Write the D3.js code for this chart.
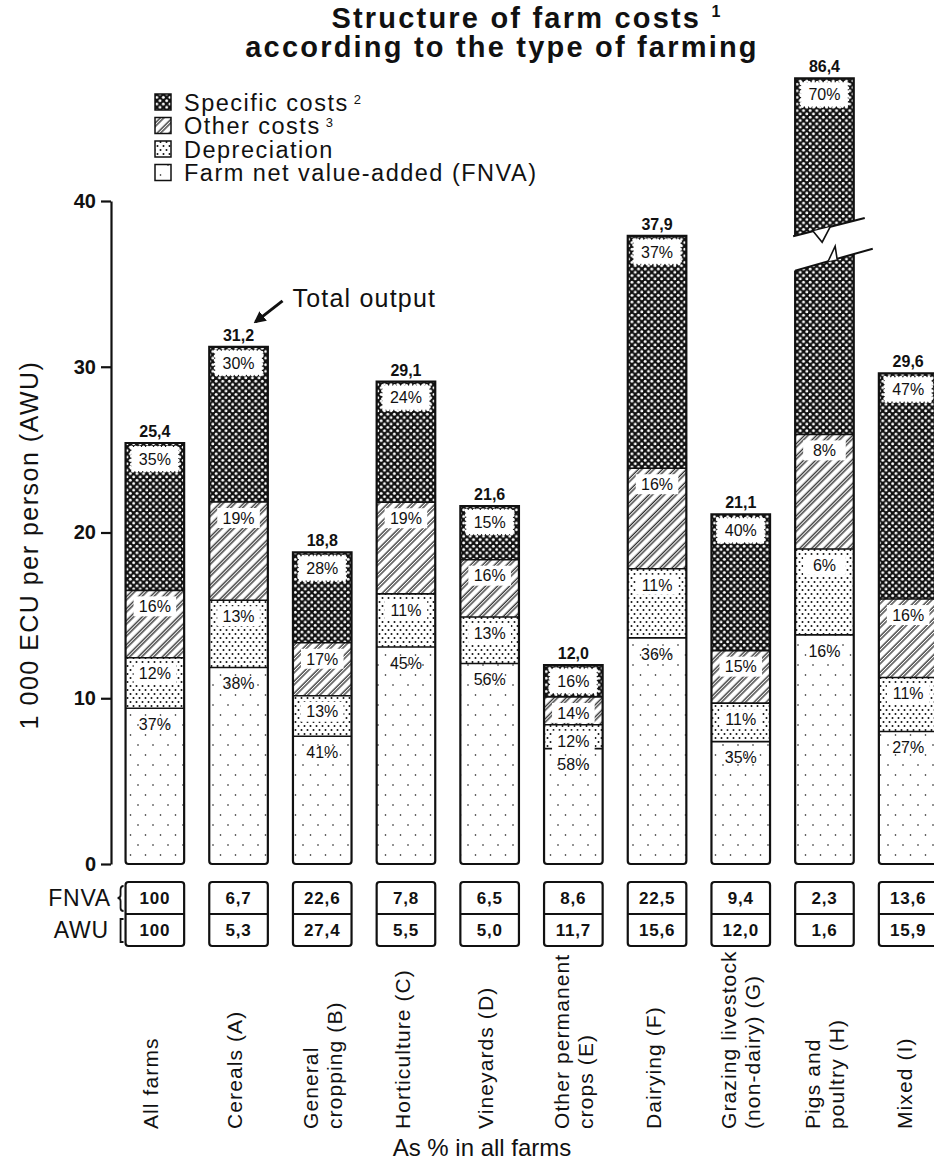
<!DOCTYPE html>
<html>
<head>
<meta charset="utf-8">
<script src="https://cdn.jsdelivr.net/npm/d3@7"></script>
<style>
  body { margin: 0; background: #fff; }
  svg { display: block; }
  text { font-family: "Liberation Sans", Arial, Helvetica, sans-serif; fill: #111; }
</style>
</head>
<body>
<svg id="chart" width="934" height="1167"></svg>
<script>
// ---- data -------------------------------------------------------------
const categories = ["All farms", "Cereals (A)", "General cropping (B)", "Horticulture (C)",
  "Vineyards (D)", "Other permanent crops (E)", "Dairying (F)",
  "Grazing livestock (non-dairy) (G)", "Pigs and poultry (H)", "Mixed (I)"];
const categoryLines = [["All farms"], ["Cereals (A)"], ["General", "cropping (B)"],
  ["Horticulture (C)"], ["Vineyards (D)"], ["Other permanent", "crops (E)"],
  ["Dairying (F)"], ["Grazing livestock", "(non-dairy) (G)"], ["Pigs and", "poultry (H)"],
  ["Mixed (I)"]];
// total output, 1 000 ECU per AWU
const totalOutput = [25.4, 31.2, 18.8, 29.1, 21.6, 12.0, 37.9, 21.1, 86.4, 29.6];
// shares of total output, %
const pctFNVA = [37, 38, 41, 45, 56, 58, 36, 35, 16, 27];
const pctDepreciation = [12, 13, 13, 11, 13, 12, 11, 11, 6, 11];
const pctOther = [16, 19, 17, 19, 16, 14, 16, 15, 8, 16];
const pctSpecific = [35, 30, 28, 24, 15, 16, 37, 40, 70, 47];
// as % in all farms
const fnvaShare = ["100", "6,7", "22,6", "7,8", "6,5", "8,6", "22,5", "9,4", "2,3", "13,6"];
const awuShare = ["100", "5,3", "27,4", "5,5", "5,0", "11,7", "15,6", "12,0", "1,6", "15,9"];
const yTicks = [0, 10, 20, 30, 40];
const seriesKeys = ["specific", "other", "dep", "fnva"];
const seriesNames = ["Specific costs", "Other costs", "Depreciation", "Farm net value-added (FNVA)"];
const seriesNotes = ["2", "3", "", ""];

// ---- layout -----------------------------------------------------------
const INK = "#111";
const svg = d3.select("#chart");
const x = d3.scaleBand().domain(categories).range([113, 950]).paddingInner(0.3).paddingOuter(0.15);
const bw = x.bandwidth();
const yMax = 40;
const y = d3.scaleLinear().domain([0, yMax]).range([864, 201]);
// a bar taller than the axis is cut: its top is drawn shifted down by breakShift
const breakShift = 39.0;
const yUp = v => y(v - breakShift);
const breakLower = [35.8, 36.8];   // cut edge of the lower piece (left, right)
const breakUpper = [76.9, 77.8];   // cut edge of the upper piece (left, right)

// ---- fill patterns ----------------------------------------------------
const defs = svg.append("defs");
function pattern(id, w, h, draw, transform) {
  const p = defs.append("pattern").attr("id", id)
    .attr("patternUnits", "userSpaceOnUse").attr("width", w).attr("height", h);
  if (transform) p.attr("patternTransform", transform);
  draw(p, w, h);
}
pattern("p-specific", 6.6, 6.6, (p, w, h) => {
  p.append("rect").attr("width", w).attr("height", h).attr("fill", INK);
  [[1.65, 1.65], [4.95, 4.95]].forEach(([cx, cy]) =>
    p.append("circle").attr("cx", cx).attr("cy", cy).attr("r", 1.45).attr("fill", "#fff"));
});
pattern("p-other", 8.5, 8.5, (p, w, h) => {
  p.append("rect").attr("width", w).attr("height", h).attr("fill", "#fff");
  [1.2, 3.7].forEach(lx => p.append("line").attr("x1", lx).attr("x2", lx)
    .attr("y1", 0).attr("y2", h).attr("stroke", INK).attr("stroke-width", 1.15));
}, "rotate(45)");
pattern("p-dep", 6, 8, (p, w, h) => {
  p.append("rect").attr("width", w).attr("height", h).attr("fill", "#fff");
  [[1.5, 2], [4.5, 6]].forEach(([cx, cy]) =>
    p.append("circle").attr("cx", cx).attr("cy", cy).attr("r", 1.0).attr("fill", INK));
});
pattern("p-fnva", 15, 20, (p, w, h) => {
  p.append("rect").attr("width", w).attr("height", h).attr("fill", "#fff");
  [[3, 5], [10.5, 15]].forEach(([cx, cy]) =>
    p.append("circle").attr("cx", cx).attr("cy", cy).attr("r", 0.8).attr("fill", INK));
});

// ---- stacked values ---------------------------------------------------
const table = categories.map((c, i) => {
  const t = totalOutput[i];
  const fnva = t * pctFNVA[i] / 100;
  const dep = t * pctDepreciation[i] / 100;
  const other = t * pctOther[i] / 100;
  return { cat: c, total: t, fnva, dep, other, specific: t - fnva - dep - other,
    pct: { fnva: pctFNVA[i], dep: pctDepreciation[i], other: pctOther[i], specific: pctSpecific[i] } };
});
const stackOrder = ["fnva", "dep", "other", "specific"];
const stacked = d3.stack().keys(stackOrder)(table);

// ---- title ------------------------------------------------------------
const title = svg.append("g").attr("font-weight", "bold").attr("font-size", 29)
  .attr("letter-spacing", 2.2).attr("text-anchor", "middle");
const t1 = title.append("text").attr("x", 527).attr("y", 28);
t1.append("tspan").text("Structure of farm costs ");
t1.append("tspan").attr("font-size", 16).attr("dy", -11).text("1");
title.append("text").attr("x", 502).attr("y", 57).text("according to the type of farming");

// ---- legend -----------------------------------------------------------
const legend = svg.append("g");
seriesKeys.forEach((k, i) => {
  const cy = 102 + i * 23.5;
  legend.append("rect").attr("x", 155).attr("y", cy - 8).attr("width", 16).attr("height", 16)
    .attr("fill", `url(#p-${k})`).attr("stroke", INK).attr("stroke-width", 1.5);
  const t = legend.append("text").attr("x", 184).attr("y", cy + 8.5)
    .attr("font-size", 23.5).attr("letter-spacing", 1.5);
  t.append("tspan").text(seriesNames[i]);
  if (seriesNotes[i]) t.append("tspan").attr("font-size", 13).attr("dx", 5).attr("dy", -7).text(seriesNotes[i]);
});

// ---- y axis -----------------------------------------------------------
const yAxis = svg.append("g").attr("transform", "translate(111,0)")
  .call(d3.axisLeft(y).tickValues(yTicks).tickSize(10).tickSizeOuter(0).tickPadding(5));
yAxis.select(".domain").attr("stroke", INK).attr("stroke-width", 2.2);
yAxis.selectAll(".tick line").attr("stroke", INK).attr("stroke-width", 2.2);
yAxis.selectAll(".tick text").attr("font-size", 20).attr("font-weight", "bold")
  .attr("font-family", "Liberation Sans, Arial, sans-serif").attr("fill", INK);

svg.append("text").attr("transform", "translate(38,545) rotate(-90)")
  .attr("text-anchor", "middle").attr("font-size", 25).attr("letter-spacing", 1.5)
  .text("1 000 ECU per person (AWU)");

// ---- bars -------------------------------------------------------------
const bars = svg.append("g");
const outlinePath = (x0, x1, top, bot, r) =>
  `M${x0},${top}L${x1},${top}L${x1},${bot - r}Q${x1},${bot} ${x1 - r},${bot}` +
  `L${x0 + r},${bot}Q${x0},${bot} ${x0},${bot - r}Z`;
const fmtTotal = v => d3.format(".1f")(v).replace(".", ",");

function labelBox(g, key, cx, cy) {
  if (key === "fnva") return;
  const w = key === "specific" ? bw - 12 : bw - 16, h = key === "specific" ? 24 : 20;
  const r = g.append("rect").attr("x", cx - w / 2).attr("y", cy - h / 2)
    .attr("width", w).attr("height", h).attr("fill", "#fff");
  if (key === "specific") {
    // scalloped rim where the white box meets the dotted dark fill
    r.attr("stroke", "#fff").attr("stroke-width", 3.2)
      .attr("stroke-dasharray", "0 4").attr("stroke-linecap", "round");
  }
}
function pctLabel(g, key, pct, cx, cy) {
  labelBox(g, key, cx, cy);
  g.append("text").attr("x", cx).attr("y", cy).attr("dy", "0.36em").attr("text-anchor", "middle")
    .attr("font-size", 16).text(pct + "%");
}

table.forEach((row, i) => {
  const x0 = x(row.cat), x1 = x0 + bw, cx = x0 + bw / 2;
  const g = bars.append("g");
  const bottom = y(0);
  const broken = row.total > yMax;
  const segs = stacked.map(s => ({ key: s.key, v0: s[i][0], v1: s[i][1] }));

  if (!broken) {
    segs.forEach(s => {
      g.append("rect").attr("x", x0).attr("y", y(s.v1)).attr("width", bw)
        .attr("height", y(s.v0) - y(s.v1)).attr("fill", `url(#p-${s.key})`);
    });
    segs.slice(0, -1).forEach(s => {
      g.append("line").attr("x1", x0).attr("x2", x1).attr("y1", y(s.v1)).attr("y2", y(s.v1))
        .attr("stroke", INK).attr("stroke-width", 1.6);
    });
    segs.forEach(s => pctLabel(g, s.key, row.pct[s.key], cx, y(s.v1) + 16));
    g.append("path").attr("d", outlinePath(x0, x1, y(row.total), bottom, 3))
      .attr("fill", "none").attr("stroke", INK).attr("stroke-width", 2.2);
    g.append("text").attr("x", cx).attr("y", y(row.total) - 6).attr("text-anchor", "middle")
      .attr("font-size", 16).attr("font-weight", "bold").text(fmtTotal(row.total));
  } else {
    // lower piece, cut along a slanted edge
    const yl0 = y(breakLower[0]), yl1 = y(breakLower[1]);
    const slopeL = (yl1 - yl0) / bw;
    const clipL = defs.append("clipPath").attr("id", `cut-low-${i}`);
    clipL.append("polygon").attr("points", [[x0, yl0], [x1, yl1], [x1, bottom + 4], [x0, bottom + 4]].join(" "));
    const low = g.append("g").attr("clip-path", `url(#cut-low-${i})`);
    segs.forEach(s => {
      const top = Math.min(s.v1, yMax + 2);
      low.append("rect").attr("x", x0).attr("y", y(top)).attr("width", bw)
        .attr("height", y(s.v0) - y(top)).attr("fill", `url(#p-${s.key})`);
    });
    segs.slice(0, -1).forEach(s => {
      low.append("line").attr("x1", x0).attr("x2", x1).attr("y1", y(s.v1)).attr("y2", y(s.v1))
        .attr("stroke", INK).attr("stroke-width", 1.6);
    });
    segs.slice(0, -1).forEach(s => pctLabel(g, s.key, row.pct[s.key], cx, y(s.v1) + 16));
    g.append("path").attr("d",
      `M${x0},${yl0}L${x0},${bottom - 3}Q${x0},${bottom} ${x0 + 3},${bottom}L${x1 - 3},${bottom}` +
      `Q${x1},${bottom} ${x1},${bottom - 3}L${x1},${yl1}`)
      .attr("fill", "none").attr("stroke", INK).attr("stroke-width", 2.2);
    const extL = 19;
    g.append("line").attr("x1", x0).attr("y1", yl0).attr("x2", x1 + extL).attr("y2", yl1 + slopeL * extL)
      .attr("stroke", INK).attr("stroke-width", 2);
    const sx = x0 + 33;
    const syl = yl0 + slopeL * 33;
    g.append("path").attr("d", `M${sx},${syl}L${sx + 7},${syl - 15}L${sx + 9},${syl - 2}`)
      .attr("fill", "#fff").attr("stroke", INK).attr("stroke-width", 1.6);

    // upper piece, holding the top of the specific costs
    const yu0 = yUp(breakUpper[0]), yu1 = yUp(breakUpper[1]);
    const slopeU = (yu1 - yu0) / bw;
    const topY = yUp(row.total);
    const clipU = defs.append("clipPath").attr("id", `cut-up-${i}`);
    clipU.append("polygon").attr("points", [[x0, topY - 2], [x1, topY - 2], [x1, yu1], [x0, yu0]].join(" "));
    const up = g.append("g").attr("clip-path", `url(#cut-up-${i})`);
    const spec = segs[segs.length - 1];
    up.append("rect").attr("x", x0).attr("y", topY).attr("width", bw)
      .attr("height", yu0 - topY + 4).attr("fill", `url(#p-${spec.key})`);
    pctLabel(g, spec.key, row.pct[spec.key], cx, topY + 16);
    g.append("path").attr("d", `M${x0},${yu0}L${x0},${topY}L${x1},${topY}L${x1},${yu1}`)
      .attr("fill", "none").attr("stroke", INK).attr("stroke-width", 2.2);
    const extU = 11;
    g.append("line").attr("x1", x0 - 2).attr("y1", yu0 - slopeU * 2).attr("x2", x1 + extU).attr("y2", yu1 + slopeU * extU)
      .attr("stroke", INK).attr("stroke-width", 2);
    const vx = x0 + 18;
    const syu = yu0 + slopeU * 18;
    g.append("path").attr("d", `M${vx},${syu}L${vx + 9},${syu + 11}L${vx + 17},${syu + slopeU * 17}`)
      .attr("fill", "#fff").attr("stroke", INK).attr("stroke-width", 1.6);
    g.append("text").attr("x", cx).attr("y", topY - 6).attr("text-anchor", "middle")
      .attr("font-size", 16).attr("font-weight", "bold").text(fmtTotal(row.total));
  }
});

// ---- "Total output" pointer -------------------------------------------
const cer = categories[1];
const cerX = x(cer) + bw / 2, cerY = y(totalOutput[1]);
defs.append("marker").attr("id", "arrow").attr("viewBox", "0 0 10 10").attr("refX", 8).attr("refY", 5)
  .attr("markerWidth", 4).attr("markerHeight", 4).attr("orient", "auto")
  .append("path").attr("d", "M0,0L10,5L0,10Z").attr("fill", INK);
svg.append("line").attr("x1", cerX + 44).attr("y1", cerY - 46).attr("x2", cerX + 17).attr("y2", cerY - 25)
  .attr("stroke", INK).attr("stroke-width", 3).attr("marker-end", "url(#arrow)");
svg.append("text").attr("x", cerX + 54).attr("y", cerY - 40).attr("font-size", 25)
  .attr("letter-spacing", 1.2).text("Total output");

// ---- share table under the bars ---------------------------------------
const tableTop = 882, rowH = 32;
const tbl = svg.append("g");
categories.forEach((c, i) => {
  const x0 = x(c), cx = x0 + bw / 2;
  tbl.append("rect").attr("x", x0).attr("y", tableTop).attr("width", bw).attr("height", rowH * 2)
    .attr("rx", 3).attr("fill", "#fff").attr("stroke", INK).attr("stroke-width", 2.2);
  tbl.append("line").attr("x1", x0).attr("x2", x0 + bw).attr("y1", tableTop + rowH).attr("y2", tableTop + rowH)
    .attr("stroke", INK).attr("stroke-width", 1.8);
  [fnvaShare[i], awuShare[i]].forEach((v, r) => {
    tbl.append("text").attr("x", cx).attr("y", tableTop + rowH * r + rowH / 2).attr("dy", "0.36em")
      .attr("text-anchor", "middle").attr("font-size", 17).attr("font-weight", "bold")
      .attr("letter-spacing", 0.8).text(v);
  });
});
tbl.append("text").attr("x", 111).attr("y", tableTop + rowH / 2).attr("dy", "0.36em")
  .attr("text-anchor", "end").attr("font-size", 23).attr("letter-spacing", 0.8).text("FNVA");
tbl.append("text").attr("x", 109).attr("y", tableTop + rowH * 1.5).attr("dy", "0.36em")
  .attr("text-anchor", "end").attr("font-size", 23).attr("letter-spacing", 0.8).text("AWU");
const bx = x(categories[0]) - 2;
tbl.append("path").attr("d",
  `M${bx},${tableTop + 4}Q${bx - 3},${tableTop + 4} ${bx - 3},${tableTop + 8}L${bx - 3},${tableTop + 13}` +
  `Q${bx - 3},${tableTop + 16} ${bx - 6},${tableTop + 16}Q${bx - 3},${tableTop + 16} ${bx - 3},${tableTop + 19}` +
  `L${bx - 3},${tableTop + 26}Q${bx - 3},${tableTop + 29} ${bx},${tableTop + 29}`)
  .attr("fill", "none").attr("stroke", INK).attr("stroke-width", 1.8);
tbl.append("path").attr("d",
  `M${bx},${tableTop + rowH + 5}L${bx - 3},${tableTop + rowH + 5}L${bx - 3},${tableTop + rowH * 2 - 4}L${bx},${tableTop + rowH * 2 - 4}`)
  .attr("fill", "none").attr("stroke", INK).attr("stroke-width", 1.8);

// ---- category labels --------------------------------------------------
const catG = svg.append("g");
categories.forEach((c, i) => {
  const lines = categoryLines[i];
  const cx = x(c) + bw / 2;
  lines.forEach((ln, j) => {
    const off = lines.length === 1 ? -4 : (j === 0 ? -12 : 12);
    catG.append("text").attr("transform", `translate(${cx + off},1129) rotate(-90)`)
      .attr("dy", "0.36em").attr("font-size", 21).attr("letter-spacing", 1.1).text(ln);
  });
});
svg.append("text").attr("x", 482).attr("y", 1156).attr("text-anchor", "middle")
  .attr("font-size", 24).text("As % in all farms");
</script>
</body>
</html>
